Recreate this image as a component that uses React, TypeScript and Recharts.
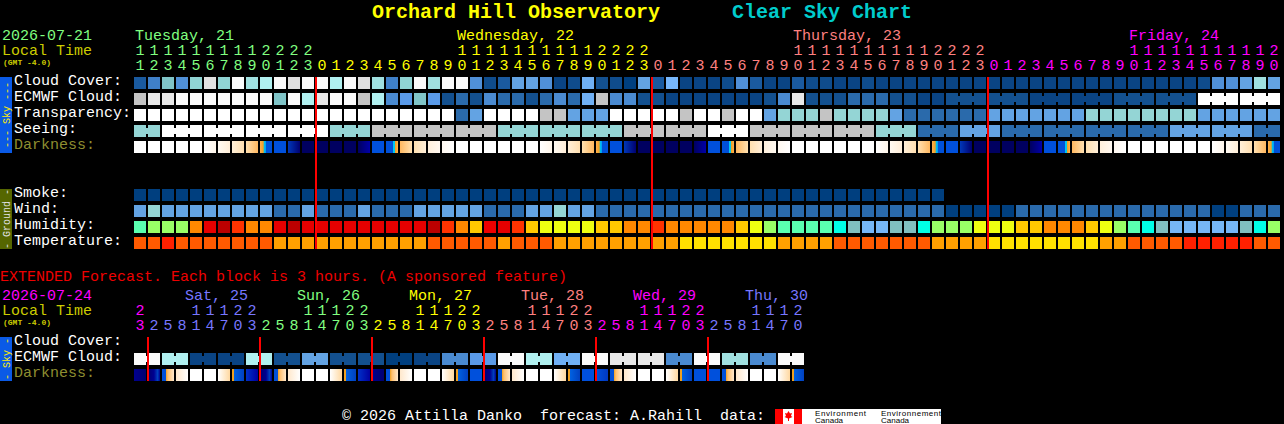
import React from 'react';
import { ScatterChart, Scatter, XAxis, YAxis } from 'recharts';

const MONO = "'Liberation Mono', monospace";

const COLORS: Record<string, string> = {
  a: '#003f7f', b: '#0a4484', c: '#0f4c8c', d: '#13508f', e: '#1a5a9f', f: '#2a6aab', g: '#3f80c8',
  h: '#4a8ad0', i: '#5090d8', j: '#5a9ae8', k: '#63a3e3', l: '#70b0f4', m: '#78b8fc', n: '#80c4c8',
  o: '#90d4d4', p: '#94d5d5', q: '#a0e0e0', r: '#b0f0f0', s: '#c4c4c4', t: '#e0e0e0', u: '#e8e8e8',
  v: '#fafafa', w: '#ffffff',
  M: '#5affb0', L: '#99ff66', O: '#ff8800', R: '#e60000', D: '#bb0000', X: '#ff3300', A: '#ffc800',
  Y: '#eeff11', C: '#00ffe6', T: '#80bfbf', B: '#76b6f6', E: '#ee0000',
  F: '#ff5a00', G: '#ff2000', H: '#ffa000', I: '#ffe000',
};

const DARK_STOPS: Record<string, [number, string][]> = {
  W: [[0, '#ffffff'], [1, '#ffffff']],
  wc: [[0, '#ffffff'], [1, '#fff6ea']],
  cc: [[0, '#fffaf2'], [1, '#ffeed8']],
  cp: [[0, '#ffefd8'], [1, '#ffdfb0']],
  po: [[0, '#ffe0b0'], [1, '#ffb860']],
  dk: [[0, '#ffb050'], [0.28, '#f0a020'], [0.32, '#00c8f0'], [0.48, '#00a0f0'], [0.52, '#0050d8'], [1, '#0050d8']],
  B: [[0, '#0050dc'], [1, '#0050dc']],
  dn: [[0, '#0038b8'], [1, '#000070']],
  N: [[0, '#000060'], [1, '#000060']],
  nd: [[0, '#000060'], [1, '#0000a8']],
  dw: [[0, '#0050d8'], [0.58, '#0050d8'], [0.62, '#00c8f0'], [0.74, '#00c8f0'], [0.78, '#f0a020'], [1, '#ffb050']],
  op: [[0, '#ffb860'], [1, '#ffe0b0']],
  pc: [[0, '#ffe0b0'], [1, '#ffeed8']],
  c: [[0, '#fff0dc'], [1, '#fff8f0']],
  cw: [[0, '#fff8f0'], [1, '#ffffff']],
  ed: [[0, '#0050d8'], [0.3, '#0050d8'], [0.33, '#f0a020'], [0.5, '#ffc070'], [1, '#ffe8cc']],
  xc: [[0, '#ffe8cc'], [1, '#ffffff']],
  xw: [[0, '#ffffff'], [1, '#ffd8a0']],
  xd: [[0, '#f0a020'], [0.15, '#f0a020'], [0.2, '#0060e0'], [1, '#0040c0']],
  xb: [[0, '#0030c8'], [1, '#0000a0']],
  xn: [[0, '#000090'], [1, '#000070']],
  xm: [[0, '#000070'], [0.5, '#000090'], [0.8, '#0040c0'], [1, '#000090']],
  bd: [[0, '#0050dc'], [1, '#0038c0']],
};

const cloudCover = [...'egniotovqr' , ...'vtvvrvtqgo', ...'vqvvicekki', ...'bcldcakemb', ...'bbciebbecc', ...'bbcbbbbbbb', ...'bbbbbbbbbb', ...'bbbbbbciikqk'];
const ecmwfCloud = [...'suuvvvvvvv', ...'nvruvvsrhj', ...'njdfdhffdf', ...'hflshhddbb', ...'bbbbbdhudd', ...'dfffddbbdd', ...'ddddbbbbbb', ...'ddddddwwwwww'];
const transparency = [...'wwwwwwwwwwwwwwwwwwwwwww', ...'fk', ...'wwww', ...'sskkk', ...'wwwww', ...'swwswwk', ...'ppp', ...'s', ...'pppp', ...'k', ...'ffffff', ...'kkkkkkk', ...'pppppppp', ...'kkkkkk'];
const seeing = [...'pp', ...'wwwwwwwwwwww', ...'ppp', ...'sssssssss', ...'ppppppppp', ...'ssssss', ...'www', ...'sssssssss', ...'ppp', ...'fff', ...'kkk', ...'ffffffffffff', ...'kkkkkk', ...'ff'];
const darkness = [
  'W', 'W', 'W', 'W', 'W', 'wc', 'cc', 'cp', 'po', 'dk', 'B', 'dn', 'N', 'N', 'N', 'N', 'nd', 'B', 'dw', 'op', 'pc', 'c', 'cw', 'W',
  'W', 'W', 'W', 'W', 'W', 'wc', 'cc', 'cp', 'po', 'dk', 'B', 'dn', 'N', 'N', 'N', 'N', 'nd', 'B', 'dw', 'op', 'pc', 'c', 'cw', 'W',
  'W', 'W', 'W', 'W', 'W', 'wc', 'cc', 'cp', 'po', 'dk', 'B', 'dn', 'N', 'N', 'N', 'N', 'nd', 'B', 'dw', 'op', 'pc', 'c', 'cw', 'W',
  'W', 'W', 'W', 'W', 'W', 'wc', 'cc', 'cp', 'po', 'dk',
];
const smoke = [...'aaaaaaaaaaaaaaaaaaaaaaaaaaaaaaaaaaaaaaaaaaaaaaaaaaaaaaaaaa'];
const wind = [...'kp', ...'kkkkkkkk', ...'ff', ...'k', ...'fff', ...'k', ...'fff', ...'kkkkk', ...'fff', ...'kk', ...'p', ...'kk', ...'fffffffffffffffffffffffff', ...'aaaaa', ...'ffffffffffffff', ...'aa', ...'fff'];
const humidity = [...'MLLLORDXOO', ...'RDRRRRRRRRR', ...'DXOAERXA', ...'YYYY', ...'AAOOX', ...'OOOOO', ...'AYL', ...'MMMM', ...'CT', ...'BBTTCLLL', ...'YYYAAOOO', ...'AYLMCT', ...'BBBBB', ...'TCL'];
const temperature = [...'FFG', ...'FFFFFFF', ...'HHHHHHHHHHH', ...'FFFFF', ...'H', ...'FFF', ...'HHHHHHHHH', ...'IIIIIII', ...'HHHH', ...'FFFFFFF', ...'HHHH', ...'IIIIIIII', ...'HH', ...'FFFF', ...'GGGGG', ...'FF'];

const extEcmwf = [...'vvrrbbbbrrddkkddddaabbhhjjvvrrllvvuuuuhhvvqqhhvv'];
const extDarkness = [
  'xn', 'xm', 'ed', 'xc', 'W', 'W', 'xw', 'xd', 'xb', 'xm', 'ed', 'xc', 'W', 'W', 'xw', 'xd', 'xb', 'xn', 'ed', 'xc', 'W', 'W', 'xw', 'xd',
  'B', 'xm', 'ed', 'xc', 'W', 'W', 'xw', 'xd', 'B', 'bd', 'ed', 'xc', 'W', 'W', 'xw', 'xd', 'B', 'B', 'ed', 'xc', 'W', 'W', 'xw', 'xd',
];

const mainHours = [11, 12, 13, 14, 15, 16, 17, 18, 19, 20, 21, 22, 23,
  0, 1, 2, 3, 4, 5, 6, 7, 8, 9, 10, 11, 12, 13, 14, 15, 16, 17, 18, 19, 20, 21, 22, 23,
  0, 1, 2, 3, 4, 5, 6, 7, 8, 9, 10, 11, 12, 13, 14, 15, 16, 17, 18, 19, 20, 21, 22, 23,
  0, 1, 2, 3, 4, 5, 6, 7, 8, 9, 10, 11, 12, 13, 14, 15, 16, 17, 18, 19, 20];
const extHours = [23,
  2, 5, 8, 11, 14, 17, 20, 23, 2, 5, 8, 11, 14, 17, 20, 23, 2, 5, 8, 11, 14, 17, 20, 23,
  2, 5, 8, 11, 14, 17, 20, 23, 2, 5, 8, 11, 14, 17, 20, 23, 2, 5, 8, 11, 14, 17, 20];

const GREEN = '#80ff80';
const YELLOW = '#ffff00';
const SALMON = '#ff8080';
const MAGENTA = '#ff00ff';
const PERIWINKLE = '#7777ff';

const mainDaySpans = [{ end: 13, color: GREEN }, { end: 37, color: YELLOW }, { end: 61, color: SALMON }, { end: 82, color: MAGENTA }];
const extDaySpans = [{ end: 1, color: MAGENTA }, { end: 9, color: PERIWINKLE }, { end: 17, color: GREEN }, { end: 25, color: YELLOW }, { end: 33, color: SALMON }, { end: 41, color: MAGENTA }, { end: 48, color: PERIWINKLE }];

const mainDayLabels: Record<number, string> = { 0: 'Tuesday, 21', 23: 'Wednesday, 22', 47: 'Thursday, 23', 71: 'Friday, 24' };
const extDayLabels: Record<number, string> = { 4: 'Sat, 25', 12: 'Sun, 26', 20: 'Mon, 27', 28: 'Tue, 28', 36: 'Wed, 29', 44: 'Thu, 30' };
const extDayColors: Record<number, string> = { 4: PERIWINKLE, 12: GREEN, 20: YELLOW, 28: SALMON, 36: MAGENTA, 44: PERIWINKLE };

const mainRowLabels: Record<number, string> = { 0: 'Cloud Cover:', 1: 'ECMWF Cloud:', 2: 'Transparency:', 3: 'Seeing:', 4: 'Darkness:', 7: 'Smoke:', 8: 'Wind:', 9: 'Humidity:', 10: 'Temperature:' };
const extRowLabels: Record<number, string> = { 0: 'Cloud Cover:', 1: 'ECMWF Cloud:', 2: 'Darkness:' };
const midnightMain = [13, 37, 61];
const midnightExt = [1, 9, 17, 25, 33, 41];

const CELL = 12;
const GAP = 2;

type Pt = { x: number; y: number; code: string; link: boolean };
const toPoints = (codes: string[], row: number, link?: (k: number) => boolean): Pt[] =>
  codes.map((code, k) => ({ x: k, y: row, code, link: !!link && k < codes.length - 1 && link(k) }));

const FlatCell = (p: any) => {
  const { cx, cy, payload } = p;
  const fill = COLORS[payload.code];
  return (
    <g>
      <rect x={cx} y={cy} width={CELL} height={CELL} fill={fill} />
      {payload.link && <rect x={cx + CELL} y={cy + 3} width={GAP} height={CELL - 6} fill={fill} />}
    </g>
  );
};

const gradientCell = (prefix: string) => (p: any) => {
  const { cx, cy, payload } = p;
  const id = `${prefix}-${payload.x}`;
  return (
    <g>
      <defs>
        <linearGradient id={id} x1="0" x2="1" y1="0" y2="0">
          {DARK_STOPS[payload.code].map(([o, c], i) => <stop key={i} offset={o} stopColor={c} />)}
        </linearGradient>
      </defs>
      <rect x={cx} y={cy} width={CELL} height={CELL} fill={`url(#${id})`} />
    </g>
  );
};

const NoMark = () => <g />;

const hourTick = (hours: number[], spans: { end: number; color: string }[], dayLabels: Record<number, string>, dayColor: (k: number, base: string) => string, labelDx: number, tensY: number, unitsY: number) => (p: any) => {
  const k = p.payload.value as number;
  const h = hours[k];
  if (h === undefined) return <g />;
  const color = spans.find((s) => k < s.end)!.color;
  const cx = p.x + CELL / 2;
  return (
    <g fontFamily={MONO} fontSize={15}>
      {dayLabels[k] && <text x={p.x + labelDx} y={40} fill={dayColor(k, color)}>{dayLabels[k]}</text>}
      {h >= 10 && <text x={cx} y={tensY} fill={color} textAnchor="middle">{Math.floor(h / 10)}</text>}
      <text x={cx} y={unitsY} fill={color} textAnchor="middle">{h % 10}</text>
    </g>
  );
};

const rowTick = (labels: Record<number, string>) => (p: any) => {
  const r = p.payload.value as number;
  const t = labels[r];
  if (!t) return <g />;
  return (
    <text x={14} y={p.y + 8} fontFamily={MONO} fontSize={15} fill={t === 'Darkness:' ? '#8e8e30' : '#ffffff'}>{t}</text>
  );
};

const MainPanel = () => (
  <ScatterChart width={1284} height={260} margin={{ top: 0, right: 2, bottom: 7, left: 0 }}>
    <XAxis type="number" dataKey="x" orientation="top" height={77} domain={[0, 82]} ticks={mainHours.map((_, k) => k)} interval={0}
      axisLine={false} tickLine={false} tick={hourTick(mainHours, mainDaySpans, mainDayLabels, (_, c) => c, 1, 55, 70)} />
    <YAxis type="number" dataKey="y" reversed width={134} domain={[0, 11]} ticks={[0, 1, 2, 3, 4, 7, 8, 9, 10]} interval={0}
      axisLine={false} tickLine={false} tick={rowTick(mainRowLabels)} />
    <Scatter name="Cloud Cover" data={toPoints(cloudCover, 0)} shape={FlatCell} isAnimationActive={false} />
    <Scatter name="ECMWF Cloud" data={toPoints(ecmwfCloud, 1, (k) => k >= 58 && k % 3 !== 0)} shape={FlatCell} isAnimationActive={false} />
    <Scatter name="Transparency" data={toPoints(transparency, 2)} shape={FlatCell} isAnimationActive={false} />
    <Scatter name="Seeing" data={toPoints(seeing, 3, (k) => k % 3 !== 1)} shape={FlatCell} isAnimationActive={false} />
    <Scatter name="Darkness" data={toPoints(darkness, 4)} shape={gradientCell('dark')} isAnimationActive={false} />
    <Scatter name="Smoke" data={toPoints(smoke, 7)} shape={FlatCell} isAnimationActive={false} />
    <Scatter name="Wind" data={toPoints(wind, 8)} shape={FlatCell} isAnimationActive={false} />
    <Scatter name="Humidity" data={toPoints(humidity, 9)} shape={FlatCell} isAnimationActive={false} />
    <Scatter name="Temperature" data={toPoints(temperature, 10)} shape={FlatCell} isAnimationActive={false} />
    {midnightMain.map((m) => (
      <Scatter key={m} name={`Midnight ${m}`} data={[{ x: m, y: 0 }, { x: m, y: 10.75 }]} shape={NoMark} line={{ stroke: '#ff0000', strokeWidth: 2 }} isAnimationActive={false} />
    ))}
  </ScatterChart>
);

const ExtPanel = () => (
  <ScatterChart width={1284} height={130} margin={{ top: 0, right: 2, bottom: 5, left: 0 }}>
    <XAxis type="number" dataKey="x" orientation="top" height={77} domain={[0, 82]} ticks={extHours.map((_, k) => k)} interval={0}
      axisLine={false} tickLine={false} tick={hourTick(extHours, extDaySpans, extDayLabels, (k) => extDayColors[k], -5, 55, 70)} />
    <YAxis type="number" dataKey="y" reversed width={134} domain={[0, 3]} ticks={[0, 1, 2]} interval={0}
      axisLine={false} tickLine={false} tick={rowTick(extRowLabels)} />
    <Scatter name="ECMWF Cloud" data={toPoints(extEcmwf, 1, (k) => k % 2 === 0)} shape={FlatCell} isAnimationActive={false} />
    <Scatter name="Darkness" data={toPoints(extDarkness, 2)} shape={gradientCell('xdark')} isAnimationActive={false} />
    {midnightExt.map((m) => (
      <Scatter key={m} name={`Midnight ${m}`} data={[{ x: m, y: 0 }, { x: m, y: 2.75 }]} shape={NoMark} line={{ stroke: '#ff0000', strokeWidth: 2 }} isAnimationActive={false} />
    ))}
  </ScatterChart>
);

const Side = ({ y, h, bg, fg, label }: { y: number; h: number; bg: string; fg: string; label: string }) => (
  <g>
    <rect x={0} y={y} width={12} height={h} fill={bg} />
    <text x={0} y={0} transform={`translate(9.5 ${y + h / 2}) rotate(-90)`} textAnchor="middle" fontFamily={MONO} fontSize={10} fill={fg}>{label}</text>
  </g>
);

const Overlay = () => (
  <svg width={1284} height={424} style={{ position: 'absolute', left: 0, top: 0 }} fontFamily={MONO}>
    <text x={372} y={18} fontSize={20} fontWeight="bold" fill="#ffff00">Orchard Hill Observatory</text>
    <text x={732} y={18} fontSize={20} fontWeight="bold" fill="#00cccc">Clear Sky Chart</text>
    <text x={2} y={40} fontSize={15} fill={GREEN}>2026-07-21</text>
    <text x={2} y={55} fontSize={15} fill="#cccc00">Local Time</text>
    <text x={3} y={65} fontSize={8} fontWeight="bold" fill="#cccc00">(GMT -4.0)</text>
    <Side y={77} h={76} bg="#0a5ae6" fg="#ffee00" label="--- Sky ---" />
    <Side y={189} h={60} bg="#556600" fg="#e0e0e0" label="- Ground -" />
    <text x={0} y={281} fontSize={15} fill="#ee0000">EXTENDED Forecast. Each block is 3 hours. (A sponsored feature)</text>
    <text x={2} y={300} fontSize={15} fill={MAGENTA}>2026-07-24</text>
    <text x={2} y={315} fontSize={15} fill="#cccc00">Local Time</text>
    <text x={3} y={325} fontSize={8} fontWeight="bold" fill="#cccc00">(GMT -4.0)</text>
    <Side y={337} h={44} bg="#0a5ae6" fg="#ffee00" label="- Sky -" />
    <text x={342} y={420} fontSize={15} fill="#ffffff" style={{ whiteSpace: 'pre' }}>{'© 2026 Attilla Danko  forecast: A.Rahill  data:'}</text>
    <rect x={775} y={409} width={166} height={15} fill="#ffffff" />
    <rect x={775} y={409} width={8} height={15} fill="#ff0000" />
    <rect x={794} y={409} width={8} height={15} fill="#ff0000" />
    <polygon points="788.5,411 790,413.5 792,413 791,416 792.5,417 789,418.5 789,421 788,421 788,418.5 784.5,417 786,416 785,413 787,413.5" fill="#ff0000" />
    <g fontFamily="'Liberation Sans', sans-serif" fontSize={8} fill="#000000">
      <text x={815} y={416} textLength={51}>Environment</text>
      <text x={815} y={423}>Canada</text>
      <text x={881} y={416} textLength={60}>Environnement</text>
      <text x={881} y={423}>Canada</text>
    </g>
  </svg>
);

export default function App() {
  return (
    <div style={{ position: 'fixed', left: 0, top: 0, width: 1284, height: 424, background: '#000000', overflow: 'hidden' }}>
      <Overlay />
      <div style={{ position: 'absolute', left: 0, top: 0 }}><MainPanel /></div>
      <div style={{ position: 'absolute', left: 0, top: 260 }}><ExtPanel /></div>
    </div>
  );
}
